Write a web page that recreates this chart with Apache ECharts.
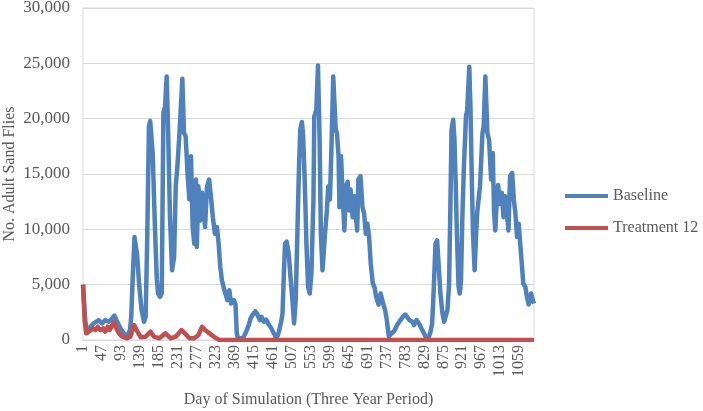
<!DOCTYPE html>
<html>
<head>
<meta charset="utf-8">
<script src="https://cdn.jsdelivr.net/npm/echarts@6/dist/echarts.min.js"></script>
<style>
  html, body { margin: 0; padding: 0; background: #fff; }
  #chart { width: 703px; height: 411px; }
</style>
</head>
<body>
<div id="chart"></div>
<script>
// Days of simulation shown on the category axis (1..1095)
const dayCount = 1095;
const dayLabels = [];
for (let d = 1; d <= dayCount; d++) dayLabels.push(String(d));

const baselineDays = [
    1, 5, 9, 15, 27, 39, 47, 55, 64, 72, 77, 84, 92, 100, 108, 115, 118, 121, 123, 126,
    129, 132, 137, 143, 149, 153, 157, 160, 161, 164, 167, 170, 176, 180, 183, 188, 192, 196, 200, 204,
    208, 212, 217, 222, 226, 230, 235, 238, 242, 246, 250, 255, 259, 263, 267, 271, 275, 277, 281, 286,
    290, 294, 297, 302, 307, 312, 316, 321, 326, 330, 334, 338, 344, 351, 356, 360, 367, 371, 374, 377,
    389, 395, 403, 408, 413, 419, 424, 430, 434, 440, 445, 450, 458, 466, 470, 474, 481, 485, 488, 491,
    495, 500, 505, 509, 513, 517, 521, 525, 528, 532, 535, 539, 543, 547, 551, 555, 560, 562, 567, 571,
    575, 578, 582, 585, 588, 592, 596, 600, 604, 608, 611, 614, 617, 621, 623, 627, 630, 635, 639, 643,
    647, 650, 655, 660, 663, 666, 669, 674, 679, 683, 687, 691, 695, 699, 704, 708, 712, 718, 723, 729,
    734, 738, 743, 749, 755, 763, 771, 777, 783, 787, 793, 800, 804, 810, 816, 822, 828, 834, 840, 844,
    848, 852, 856, 860, 864, 868, 873, 877, 881, 885, 889, 892, 895, 899, 902, 905, 908, 912, 915, 918,
    921, 925, 930, 933, 938, 941, 944, 947, 951, 954, 957, 960, 964, 967, 970, 973, 977, 979, 982, 986,
    991, 995, 998, 1001, 1005, 1008, 1012, 1017, 1021, 1025, 1029, 1033, 1037, 1042, 1046, 1050, 1054, 1058, 1061, 1066,
    1069, 1074, 1078, 1082, 1088, 1092, 1095
];
const baselineValues = [
    5000, 2500, 700, 1050, 1500, 1800, 1500, 1800, 1650, 1950, 2200, 1650, 1050, 600, 350, 900, 2100, 5000, 6900, 9300,
    8500, 7800, 5100, 2700, 1650, 2100, 9600, 17000, 19300, 19800, 19700, 16900, 9600, 5500, 4200, 3900, 4200, 20500, 21100, 23800,
    18100, 11100, 6300, 7500, 13900, 15700, 18700, 20800, 23600, 18700, 18400, 14800, 12700, 16600, 10200, 8700, 14500, 8400, 13900, 10800,
    13300, 12000, 10200, 13900, 14500, 12700, 11100, 9600, 10200, 8700, 6600, 5400, 4500, 3600, 4500, 3300, 3600, 3200, 600, 150,
    150, 600, 1350, 2000, 2300, 2600, 2300, 1800, 2100, 1650, 1850, 1500, 1050, 450, 150, 450, 1500, 2400, 5700, 8700,
    8900, 7800, 5400, 3600, 1500, 3600, 9600, 15700, 19000, 19700, 18400, 14200, 8700, 4800, 4200, 6000, 12700, 20200, 20800, 24800,
    18100, 9600, 6300, 6200, 9600, 11400, 13900, 12700, 17800, 23800, 23900, 19000, 18700, 16600, 12000, 16600, 13900, 9900, 13900, 14300,
    11700, 13600, 11100, 13000, 11100, 9900, 14500, 14800, 12000, 11400, 9600, 10500, 9300, 6900, 5100, 4800, 3900, 3200, 4200, 3300,
    2700, 1800, 300, 600, 750, 1350, 1800, 2100, 2300, 2400, 1800, 1650, 1350, 1800, 1500, 1050, 600, 150, 300, 750,
    1500, 4800, 8700, 9000, 6600, 4200, 2400, 1650, 1500, 2700, 5100, 11700, 19000, 19900, 18100, 14200, 9600, 4800, 4200, 5400,
    10800, 15700, 20200, 20800, 24700, 20800, 14800, 9600, 6300, 9000, 11400, 11400, 13900, 16300, 18700, 19300, 23800, 23900, 18700, 18100,
    14500, 16900, 11700, 9900, 12700, 14000, 12300, 13300, 11100, 13000, 11700, 9900, 14800, 15100, 12700, 11400, 9300, 10500, 9000, 6600,
    5100, 4800, 3900, 3200, 4200, 3600, 3300
];

// Treatment 12: sampled days and counts
const treatmentDays = [
    1, 3, 5, 9, 15, 19, 25, 31, 37, 43, 50, 55, 61, 66, 72, 76, 82, 88, 96, 108,
    116, 122, 125, 133, 141, 153, 165, 173, 186, 201, 214, 226, 240, 248, 259, 271, 281, 290, 297, 308,
    320, 332, 1095
];
const treatmentValues = [
    5000, 3500, 1800, 600, 750, 600, 1050, 900, 1200, 900, 1050, 750, 1200, 900, 1350, 1600, 1050, 600, 300, 150,
    300, 1050, 1350, 750, 250, 300, 750, 300, 150, 600, 150, 300, 900, 600, 150, 150, 450, 1200, 900, 600,
    250, 0, 0
];

const toPairs = (days, vals) => days.map((d, i) => [d - 1, vals[i]]);

const font = "'Liberation Serif', 'Times New Roman', serif";
const textColor = "#595959";

const chart = echarts.init(document.getElementById("chart"));
chart.setOption({
    animation: false,
    grid: {
        left: 83, right: 169, top: 8, bottom: 71,
        outerBoundsMode: "none",
        show: true, borderColor: "#d9d9d9", borderWidth: 1,
    },
    legend: {
        orient: "vertical",
        left: 560,
        top: 183,
        icon: "rect",
        itemWidth: 43,
        itemHeight: 4,
        itemGap: 16,
        textStyle: { fontFamily: font, fontSize: 16, color: textColor },
        data: ["Baseline", "Treatment 12"],
    },
    xAxis: {
        type: "category",
        data: dayLabels,
        boundaryGap: false,
        name: "Day of Simulation (Three Year Period)",
        nameLocation: "middle",
        nameGap: 52,
        nameMoveOverlap: false,
        nameTextStyle: { fontFamily: font, fontSize: 16, color: textColor },
        axisLine: { lineStyle: { color: "#d9d9d9" } },
        axisTick: { show: false },
        axisLabel: {
            interval: 45,
            rotate: 90,
            margin: 5,
            fontFamily: font,
            fontSize: 16,
            color: textColor,
        },
        splitLine: { show: false },
    },
    yAxis: {
        type: "value",
        min: 0,
        max: 30000,
        interval: 5000,
        name: "No. Adult Sand Flies",
        nameLocation: "middle",
        nameGap: 65,
        nameMoveOverlap: false,
        nameTextStyle: { fontFamily: font, fontSize: 16, color: textColor },
        axisLine: { show: false },
        axisTick: { show: false },
        axisLabel: {
            margin: 13,
            fontFamily: font,
            fontSize: 17,
            color: textColor,
            formatter: v => v.toLocaleString("en-US"),
        },
        splitLine: { lineStyle: { color: "#d9d9d9" } },
    },
    series: [
        {
            name: "Baseline",
            type: "line",
            symbol: "none",
            data: toPairs(baselineDays, baselineValues),
            lineStyle: { width: 4.5, color: "#4F81BD", join: "round" },
            itemStyle: { color: "#4F81BD" },
        },
        {
            name: "Treatment 12",
            type: "line",
            symbol: "none",
            data: toPairs(treatmentDays, treatmentValues),
            lineStyle: { width: 4.5, color: "#C0504D", join: "round" },
            itemStyle: { color: "#C0504D" },
        },
    ],
});
</script>
</body>
</html>
